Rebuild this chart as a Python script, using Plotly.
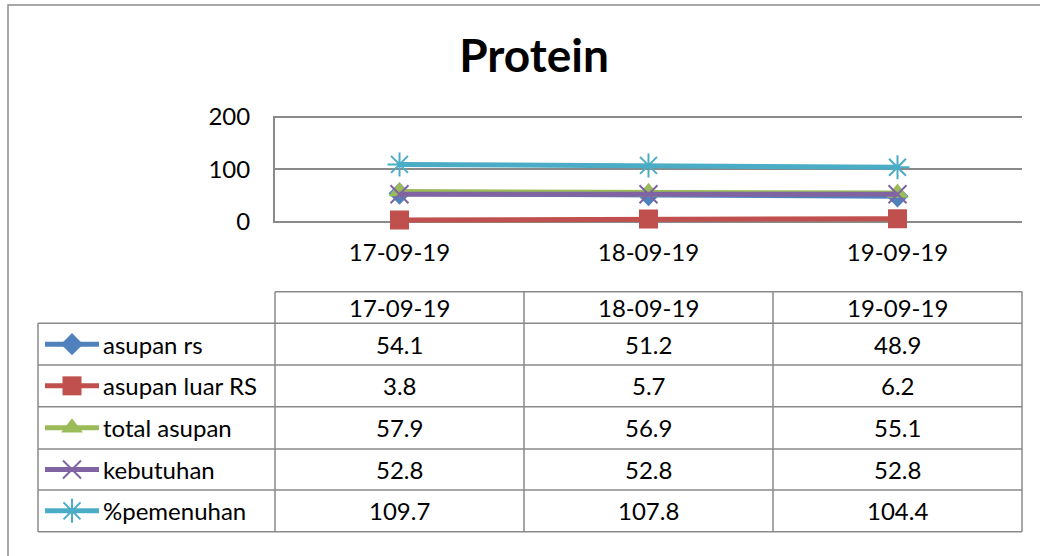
import plotly.graph_objects as go

categories = ["17-09-19", "18-09-19", "19-09-19"]
series_names = ["asupan rs", "asupan luar RS", "total asupan", "kebutuhan", "%pemenuhan"]
asupan_rs = [54.1, 51.2, 48.9]
asupan_luar_rs = [3.8, 5.7, 6.2]
total_asupan = [57.9, 56.9, 55.1]
kebutuhan = [52.8, 52.8, 52.8]
pemenuhan = [109.7, 107.8, 104.4]
y_ticks = [0, 100, 200]

values = [asupan_rs, asupan_luar_rs, total_asupan, kebutuhan, pemenuhan]
colors = ["#4F81BD", "#C0504D", "#9BBB59", "#8064A2", "#4BACC6"]
symbols = ["diamond", "square", "triangle-up", "x-thin-open", "asterisk-open"]
msizes = [17, 19, 19, 18, 20]

W, H = 1040, 556
FONT = "Lato"
GRID = "#8A8A8A"
FS = 24

# layout (pixels)
col_left = 275
col_right = 1022
label_left = 38
header_top = 291.7
row_lines = [323.3, 365, 406.7, 449, 490, 531.7]
col_w = (col_right - col_left) / len(categories)
y_top_px, y_bot_px = 117, 222
ext = 2.5
ppu = (y_bot_px - y_top_px) / (y_ticks[-1] - y_ticks[0])

fig = go.Figure()

# main chart series
for name, vals, c, s, ms in zip(series_names, values, colors, symbols, msizes):
    open_sym = s.endswith("open")
    fig.add_trace(go.Scatter(
        x=categories, y=vals, name=name, mode="lines+markers",
        line=dict(color=c, width=5),
        marker=dict(symbol=s, size=ms, color=c,
                    line=dict(color=c, width=2 if open_sym else 0)),
        xaxis="x", yaxis="y", cliponaxis=False, showlegend=False,
    ))

# legend keys inside the table (on pixel-space overlay axes)
for i, (name, c, s, ms) in enumerate(zip(series_names, colors, symbols, msizes)):
    yc = (row_lines[i] + row_lines[i + 1]) / 2
    open_sym = s.endswith("open")
    fig.add_trace(go.Scatter(
        x=[45, 72, 99], y=[yc, yc, yc], mode="lines",
        line=dict(color=c, width=5), xaxis="x2", yaxis="y2",
        cliponaxis=False, showlegend=False, hoverinfo="skip",
    ))
    fig.add_trace(go.Scatter(
        x=[72], y=[yc], mode="markers",
        marker=dict(symbol=s, size=ms, color=c,
                    line=dict(color=c, width=2 if open_sym else 0)),
        xaxis="x2", yaxis="y2", cliponaxis=False, showlegend=False, hoverinfo="skip",
    ))

shapes = []
# outer frame
shapes.append(dict(type="rect", xref="paper", yref="paper", x0=8 / W, y0=-0.1, x1=1.1, y1=1 - 5 / H,
                   line=dict(color="#8C8C8C", width=1.5), fillcolor="rgba(0,0,0,0)", layer="below"))
# table lines
shapes.append(dict(type="line", xref="x2", yref="y2", x0=col_left, x1=col_right,
                   y0=header_top, y1=header_top, line=dict(color=GRID, width=1.5)))
for yl in row_lines:
    shapes.append(dict(type="line", xref="x2", yref="y2", x0=label_left, x1=col_right,
                       y0=yl, y1=yl, line=dict(color=GRID, width=1.5)))
for k in range(len(categories) + 1):
    xl = col_left + k * col_w
    shapes.append(dict(type="line", xref="x2", yref="y2", x0=xl, x1=xl,
                       y0=header_top, y1=row_lines[-1], line=dict(color=GRID, width=1.5)))
shapes.append(dict(type="line", xref="x2", yref="y2", x0=label_left, x1=label_left,
                   y0=row_lines[0], y1=row_lines[-1], line=dict(color=GRID, width=1.5)))

annotations = []
for j, cat in enumerate(categories):
    xc = col_left + (j + 0.5) * col_w
    annotations.append(dict(x=xc, y=(header_top + row_lines[0]) / 2, xref="x2", yref="y2",
                            text=cat, showarrow=False, font=dict(size=FS, color="black", family=FONT)))
    for i, vals in enumerate(values):
        yc = (row_lines[i] + row_lines[i + 1]) / 2
        annotations.append(dict(x=xc, y=yc, xref="x2", yref="y2", text=f"{vals[j]:.1f}",
                                showarrow=False, font=dict(size=FS, color="black", family=FONT)))
for i, name in enumerate(series_names):
    yc = (row_lines[i] + row_lines[i + 1]) / 2
    annotations.append(dict(x=101, y=yc, xref="x2", yref="y2", text=name, xanchor="left",
                            showarrow=False, font=dict(size=FS, color="black", family=FONT)))

fig.update_layout(
    template="none",
    width=W, height=H, autosize=False,
    margin=dict(l=0, r=0, t=0, b=0, pad=0, autoexpand=False),
    paper_bgcolor="white", plot_bgcolor="rgba(0,0,0,0)",
    font=dict(family=FONT, color="black"),
    showlegend=False,
    title=dict(text="<b>Protein</b>", x=534 / W, xanchor="center", y=1 - 56 / H, yanchor="middle",
               automargin=False,
               font=dict(size=46, family=FONT, color="black")),
    xaxis=dict(domain=[col_left / W, col_right / W], range=[-0.5, 2.5], type="category",
               showgrid=False, showline=False, zeroline=False, ticks="", automargin=False,
               tickfont=dict(size=FS, family=FONT, color="black"), ticklabelstandoff=13,
               anchor="y"),
    yaxis=dict(domain=[1 - (y_bot_px + ext * ppu) / H, 1 - (y_top_px - ext * ppu) / H],
               range=[y_ticks[0] - ext, y_ticks[-1] + ext], tickvals=y_ticks,
               showgrid=True, gridcolor=GRID, gridwidth=2, zeroline=True,
               zerolinecolor=GRID, zerolinewidth=2, automargin=False,
               showline=True, linecolor=GRID, linewidth=2, ticks="",
               tickfont=dict(size=FS, family=FONT, color="black"), ticklabelstandoff=18,
               anchor="x"),
    xaxis2=dict(domain=[0, 1], range=[0, W], visible=False, anchor="y2", fixedrange=True,
                automargin=False),
    yaxis2=dict(domain=[0, 1], range=[H, 0], visible=False, anchor="x2", fixedrange=True,
                automargin=False),
    shapes=shapes, annotations=annotations,
)

fig.write_html("out.html", config={"displayModeBar": False},
               post_script="document.body.style.margin='0';document.body.style.padding='0';"
                           "document.body.style.overflow='hidden';")
